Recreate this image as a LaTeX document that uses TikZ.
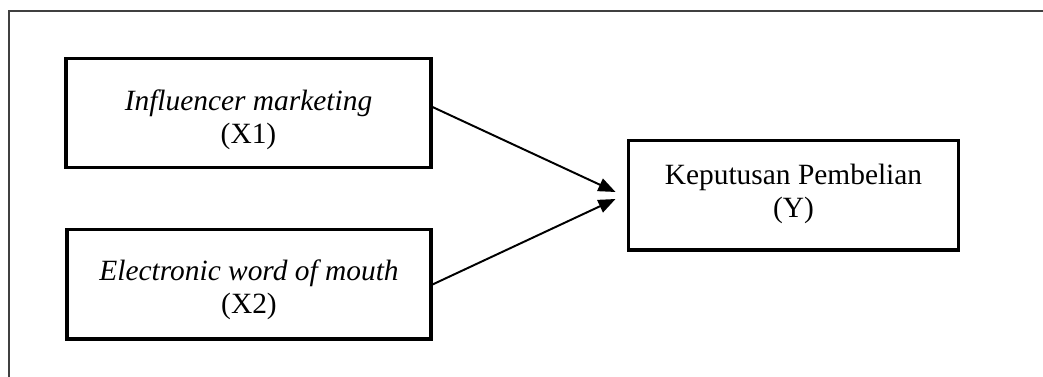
\documentclass[tikz,border=0pt]{standalone}
\usepackage{fontspec}
\setmainfont{Liberation Serif}
\usetikzlibrary{arrows.meta,calc}
\begin{document}
\begin{tikzpicture}[x=0.408pt,y=-0.408pt,
  box/.style={draw,line width=1.25pt,inner sep=0pt},
  txt/.style={align=center,inner sep=0pt,font=\fontsize{12}{13.4}\selectfont},
  conn/.style={line width=0.8pt,-{Triangle[length=7pt,width=5.5pt]}},
  frame/.style={draw=black!75,line width=0.5pt}]
\useasboundingbox (0,0) rectangle (1043,377);
\draw[frame] (9,390) -- (9,11) -- (1060,11);
\node[box,minimum width=148.9pt,minimum height=44.1pt] (b1) at (248.5,113) {};
\node[txt] (b1t) at (248.5,120) {\textit{Influencer marketing}\\(X1)};
\node[box,minimum width=148.5pt,minimum height=44.5pt] (b2) at (249,284.5) {};
\node[txt] (b2t) at (249,290) {\textit{Electronic word of mouth}\\(X2)};
\node[box,minimum width=135pt,minimum height=44.5pt] (b3) at (793.5,195.5) {};
\node[txt] (b3t) at (793.5,194) {Keputusan Pembelian\\(Y)};
\coordinate (t1) at ($(b3.west)+(-11,-3.5)$);
\coordinate (t2) at ($(b3.west)+(-11,3.5)$);
\coordinate (s1) at ($(b1.east)+(0,-6)$);
\draw[conn] (s1) -- (t1);
\draw[conn] (b2.east) -- (t2);
\end{tikzpicture}
\end{document}
